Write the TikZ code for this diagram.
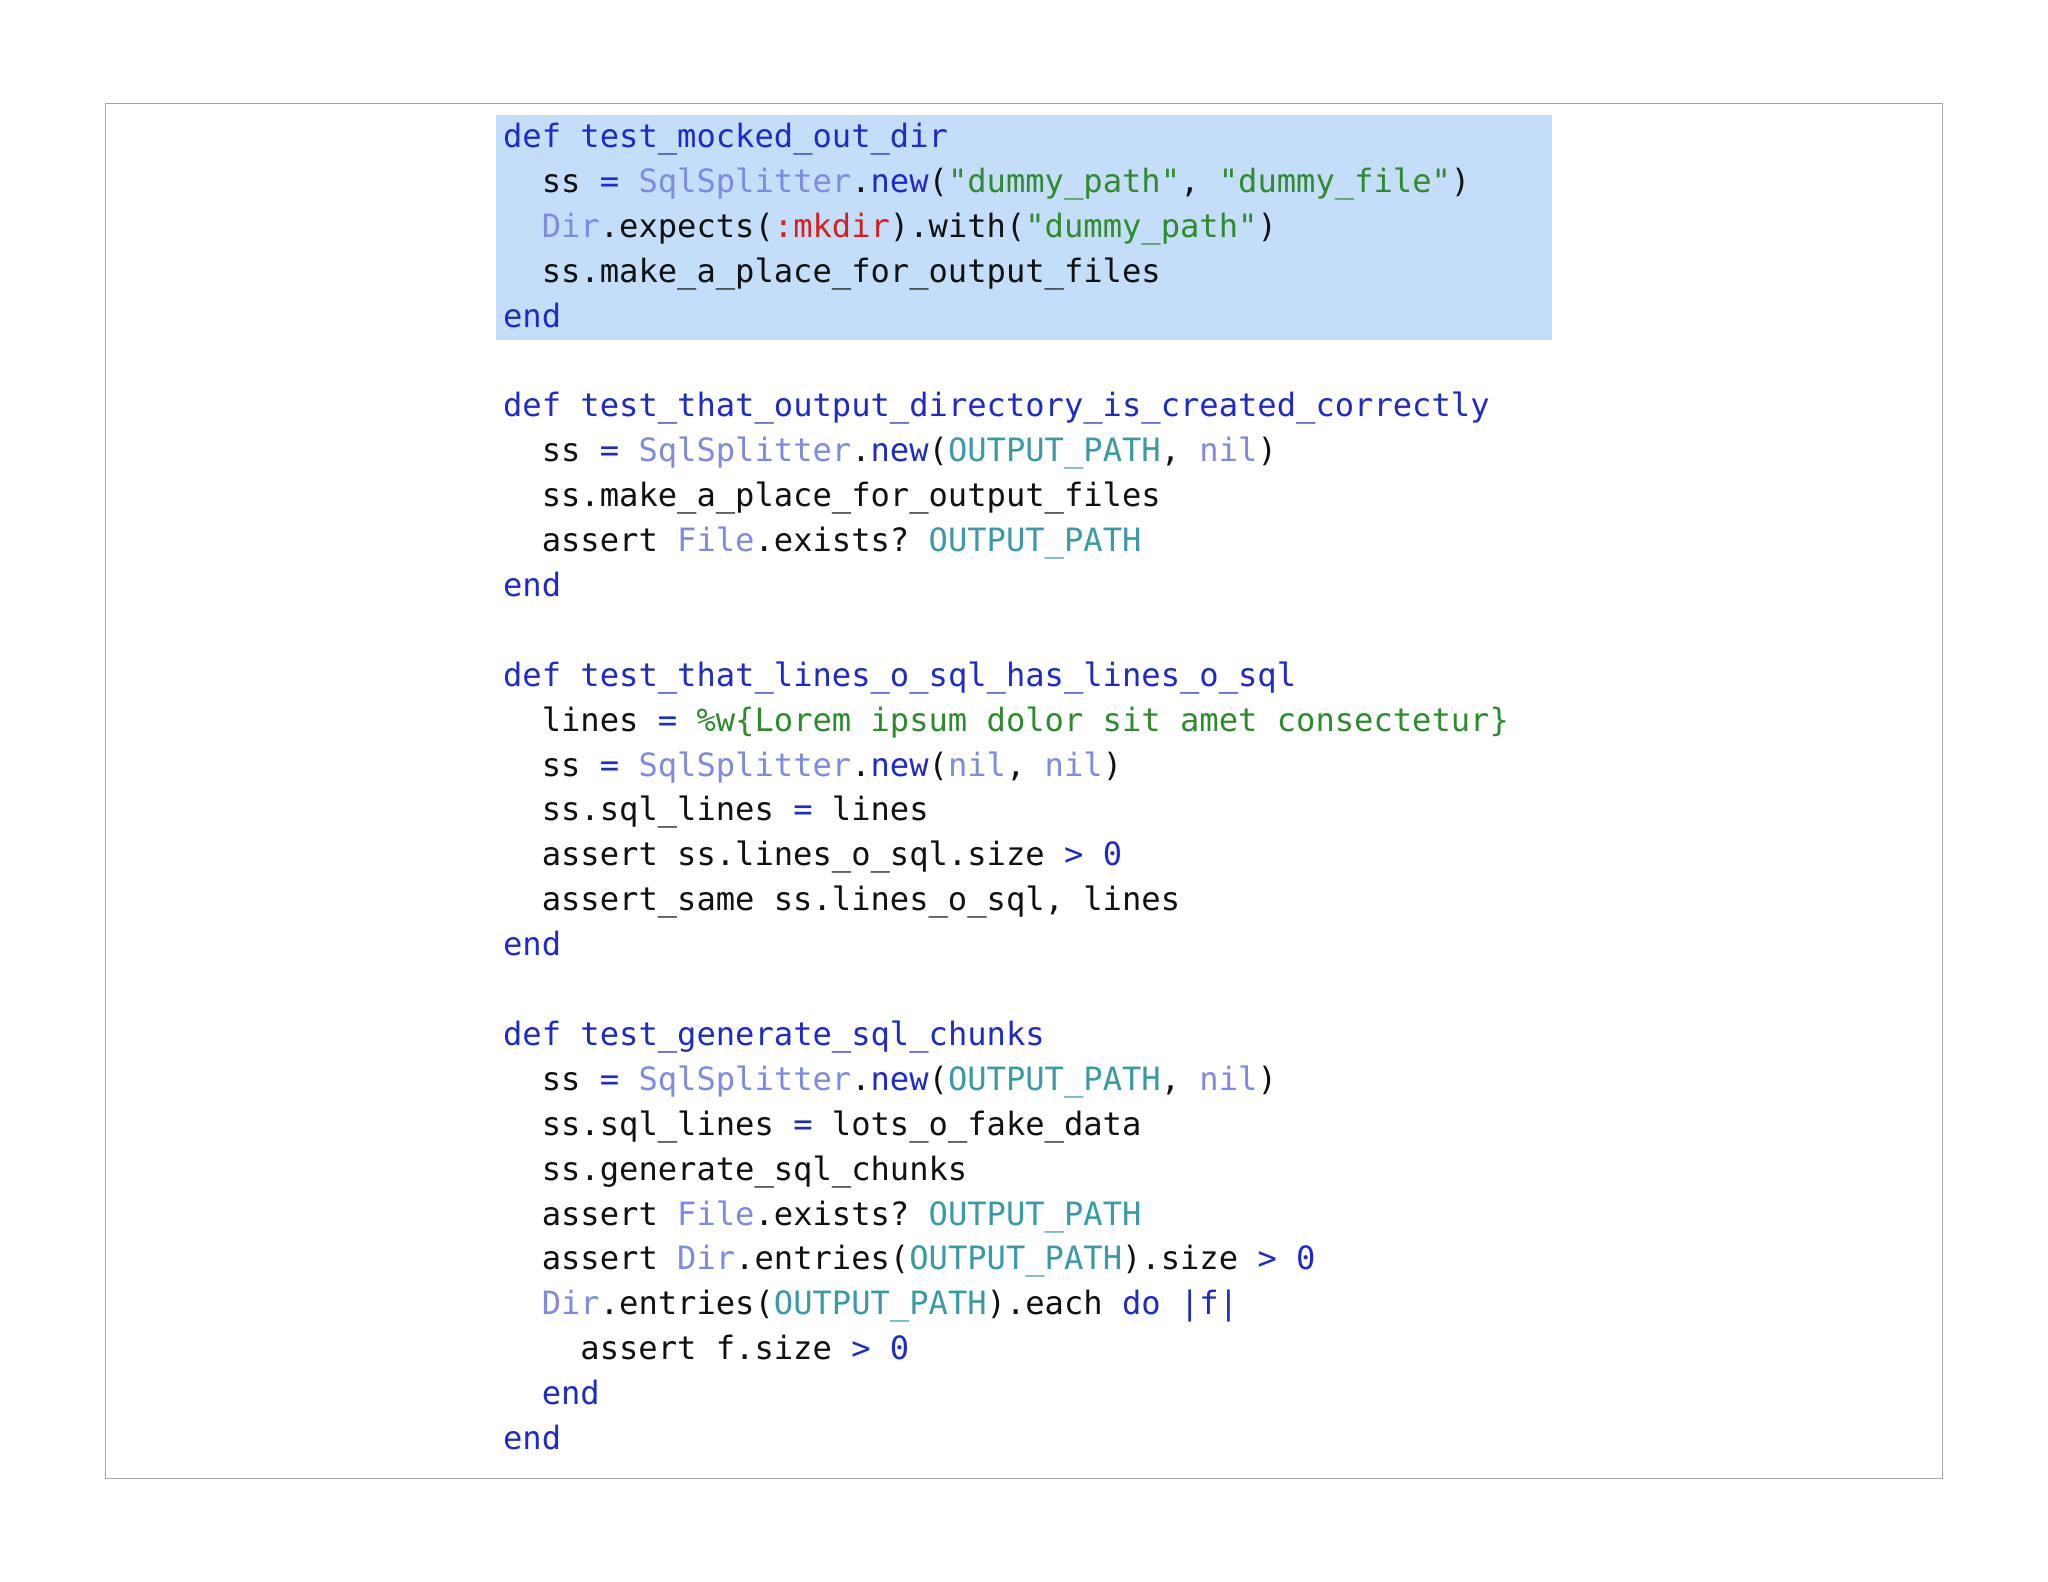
\documentclass[tikz,border=0pt]{standalone}
\usepackage{fontspec}
\setmonofont{DejaVu Sans Mono}
\definecolor{kw}{HTML}{1F2BC8}
\definecolor{cls}{HTML}{7F8BE0}
\definecolor{str}{HTML}{2E8B2E}
\definecolor{cst}{HTML}{3A9AA6}
\definecolor{sym}{HTML}{D42020}
\definecolor{hl}{HTML}{C4DEFA}
\definecolor{txt}{HTML}{111111}
\newcommand\cK[1]{\textcolor{kw}{#1}}
\newcommand\cC[1]{\textcolor{cls}{#1}}
\newcommand\cS[1]{\textcolor{str}{#1}}
\newcommand\cN[1]{\textcolor{cst}{#1}}
\newcommand\codeline[3]{\node[codetxt] (l#1) at ({385+14.8*#2},{-(113+34.37*#1)}) {#3};}
\begin{document}
\begin{tikzpicture}[x=1pt,y=1pt,
  codetxt/.style={anchor=base west,inner sep=0pt,font=\ttfamily\fontsize{24.6}{28}\selectfont,text=txt}]
\useasboundingbox (0,0) rectangle (1568,-1211);
\fill[white] (0,0) rectangle (1568,-1211);
\draw[gray!70,line width=1pt] (81,-79) rectangle (1487,-1132);
\fill[hl] (380,-88) rectangle (1188,-260);
\codeline{0}{0}{\cK{def test\_mocked\_out\_dir}}
\codeline{1}{2}{ss \cK{=} \cC{SqlSplitter}.\cK{new}(\cS{"dummy\_path"}, \cS{"dummy\_file"})}
\codeline{2}{2}{\cC{Dir}.expects(\textcolor{sym}{:mkdir}).with(\cS{"dummy\_path"})}
\codeline{3}{2}{ss.make\_a\_place\_for\_output\_files}
\codeline{4}{0}{\cK{end}}
\codeline{6}{0}{\cK{def test\_that\_output\_directory\_is\_created\_correctly}}
\codeline{7}{2}{ss \cK{=} \cC{SqlSplitter}.\cK{new}(\cN{OUTPUT\_PATH}, \cC{nil})}
\codeline{8}{2}{ss.make\_a\_place\_for\_output\_files}
\codeline{9}{2}{assert \cC{File}.exists? \cN{OUTPUT\_PATH}}
\codeline{10}{0}{\cK{end}}
\codeline{12}{0}{\cK{def test\_that\_lines\_o\_sql\_has\_lines\_o\_sql}}
\codeline{13}{2}{lines \cK{=} \cS{\%w\{Lorem ipsum dolor sit amet consectetur\}}}
\codeline{14}{2}{ss \cK{=} \cC{SqlSplitter}.\cK{new}(\cC{nil}, \cC{nil})}
\codeline{15}{2}{ss.sql\_lines \cK{=} lines}
\codeline{16}{2}{assert ss.lines\_o\_sql.size \cK{> 0}}
\codeline{17}{2}{assert\_same ss.lines\_o\_sql, lines}
\codeline{18}{0}{\cK{end}}
\codeline{20}{0}{\cK{def test\_generate\_sql\_chunks}}
\codeline{21}{2}{ss \cK{=} \cC{SqlSplitter}.\cK{new}(\cN{OUTPUT\_PATH}, \cC{nil})}
\codeline{22}{2}{ss.sql\_lines \cK{=} lots\_o\_fake\_data}
\codeline{23}{2}{ss.generate\_sql\_chunks}
\codeline{24}{2}{assert \cC{File}.exists? \cN{OUTPUT\_PATH}}
\codeline{25}{2}{assert \cC{Dir}.entries(\cN{OUTPUT\_PATH}).size \cK{> 0}}
\codeline{26}{2}{\cC{Dir}.entries(\cN{OUTPUT\_PATH}).each \cK{do} \cK{|f|}}
\codeline{27}{4}{assert f.size \cK{> 0}}
\codeline{28}{2}{\cK{end}}
\codeline{29}{0}{\cK{end}}
\end{tikzpicture}
\end{document}
